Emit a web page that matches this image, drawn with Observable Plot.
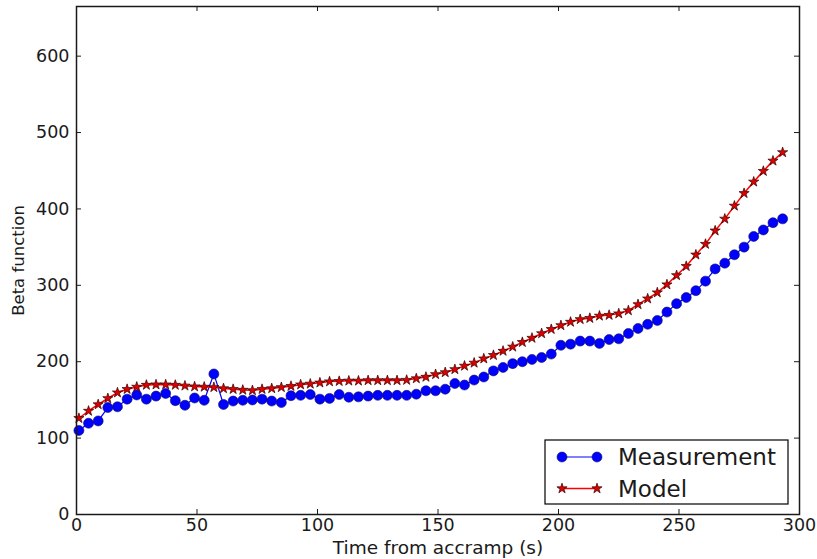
<!DOCTYPE html>
<html>
<head>
<meta charset="utf-8">
<script src="https://cdn.jsdelivr.net/npm/d3@7"></script>
<script src="https://cdn.jsdelivr.net/npm/@observablehq/plot@0.6"></script>
<style>
  html, body { margin: 0; padding: 0; background: #fff; }
  #chart { position: relative; width: 817px; height: 559px; }
</style>
</head>
<body>
<div id="chart"></div>
<script>
const times = [1,5,9,13,17,21,25,29,33,37,41,45,49,53,57,61,65,69,73,77,81,85,89,93,97,101,105,109,113,117,121,125,129,133,137,141,145,149,153,157,161,165,169,173,177,181,185,189,193,197,201,205,209,213,217,221,225,229,233,237,241,245,249,253,257,261,265,269,273,277,281,285,289,293];

const measurement = [110,119.5,122.5,140,141,151,156.5,151,155,158.5,
  149,143,152.5,149.5,184,144,148.5,149.5,150,151,
  148.5,146.5,155.5,156,157,151,152,157,153.5,154,
  155,156,156,156,156,157.5,162,162,164,171.5,
  169.5,176,180,188,192.5,197.5,200,203,205.5,210,
  221.5,223,227,227,224,229,230,237,243.5,249,
  254,265,276,284,293,305.5,321.5,329,340,350,
  364,372.5,382,387];

const model = [126,135.5,144,152,159.5,164,167,169.5,170,170,
  169.5,168.5,167.5,167,166.5,165,164,163,162.5,164,
  165,166.5,168,170,171,172.5,174,174.5,175,175,
  175.5,175.5,175.5,175.5,176,178,180,183.5,186,190,
  194.5,198.5,204,208.5,214,219.5,225.5,231,237,242.5,
  247.5,252,255.5,257,260,261,263,267,275,282.5,
  290.5,301,313,325,340,354,371.5,387,404,420.5,
  435.5,449.5,463,474];

const xTicks = [0,50,100,150,200,250,300];
const yTicks = [0,100,200,300,400,500,600];
const seriesNames = ["Measurement", "Model"];
const xLabel = "Time from accramp (s)";
const yLabel = "Beta function";

const measData = times.map((t, i) => ({t, beta: measurement[i]}));
const modelData = times.map((t, i) => ({t, beta: model[i]}));

const W = 817, H = 559, ML = 76, MR = 18, MT = 6, MB = 45;
const frameW = W - ML - MR, frameH = H - MT - MB;
const tickLen = 5;
const ink = "#1a1a1a";

const chart = Plot.plot({
  width: W, height: H,
  marginLeft: ML, marginRight: MR, marginTop: MT, marginBottom: MB,
  x: {domain: [0, 300]},
  y: {domain: [0, 665]},
  style: {fontFamily: "DejaVu Sans", fontSize: "17.5px", color: ink, background: "#fff"},
  marks: [
    Plot.axisX({ticks: xTicks, tickSize: 0, tickPadding: 4, label: null, fontSize: 17.5}),
    Plot.axisY({ticks: yTicks, tickSize: 0, tickPadding: 7, label: null, fontSize: 17.5}),
    Plot.tickX(xTicks, {x: d => d, insetTop: frameH - tickLen, stroke: ink, strokeWidth: 1}),
    Plot.tickX(xTicks, {x: d => d, insetBottom: frameH - tickLen, stroke: ink, strokeWidth: 1}),
    Plot.tickY(yTicks, {y: d => d, insetRight: frameW - tickLen, stroke: ink, strokeWidth: 1}),
    Plot.tickY(yTicks, {y: d => d, insetLeft: frameW - tickLen, stroke: ink, strokeWidth: 1}),
    Plot.line(measData, {x: "t", y: "beta", stroke: "#0000ff", strokeWidth: 1.2}),
    Plot.dot(measData, {x: "t", y: "beta", r: 5, fill: "#0000ff", stroke: "#101060", strokeWidth: 0.6}),
    Plot.line(modelData, {x: "t", y: "beta", stroke: "#ff0000", strokeWidth: 1.5}),
    Plot.dot(modelData, {x: "t", y: "beta", symbol: "star", r: 3.2, fill: "#e00000", stroke: "#300000", strokeWidth: 0.7}),
    Plot.frame({stroke: ink, strokeWidth: 1.5}),
    Plot.text([xLabel], {frameAnchor: "bottom", dy: 39, fontSize: 18.5, fill: ink, text: d => d}),
    Plot.text([yLabel], {frameAnchor: "left", textAnchor: "middle", dx: -58, rotate: -90, fontSize: 16.5, fill: ink, text: d => d})
  ]
});

document.getElementById("chart").appendChild(chart);

// Legend inside plot, lower right
const svg = d3.select(chart);
const lg = svg.append("g").attr("font-family", "DejaVu Sans").attr("font-size", 23).attr("text-anchor", "start");
const bx = 545, by = 440, bw = 243, bh = 64;
lg.append("rect").attr("x", bx).attr("y", by).attr("width", bw).attr("height", bh)
  .attr("fill", "#fff").attr("stroke", "#000").attr("stroke-width", 1.2);
const rows = [
  {name: seriesNames[0], y: 457, color: "#0000ff", sym: "circle"},
  {name: seriesNames[1], y: 488.5, color: "#ff0000", sym: "star"}
];
rows.forEach(r => {
  lg.append("line").attr("x1", 562).attr("x2", 597).attr("y1", r.y).attr("y2", r.y)
    .attr("stroke", r.color).attr("stroke-width", r.sym === "circle" ? 1.2 : 1.5);
  [562, 597].forEach(px => {
    if (r.sym === "circle") {
      lg.append("circle").attr("cx", px).attr("cy", r.y).attr("r", 5)
        .attr("fill", "#0000ff").attr("stroke", "#101060").attr("stroke-width", 0.6);
    } else {
      lg.append("path").attr("d", d3.symbol(d3.symbolStar, Math.PI * 3.2 * 3.2)())
        .attr("transform", `translate(${px},${r.y})`)
        .attr("fill", "#e00000").attr("stroke", "#300000").attr("stroke-width", 0.7);
    }
  });
  lg.append("text").attr("x", 618).attr("y", r.y).attr("dy", "0.36em")
    .attr("text-anchor", "start").attr("fill", ink).text(r.name);
});
</script>
</body>
</html>
